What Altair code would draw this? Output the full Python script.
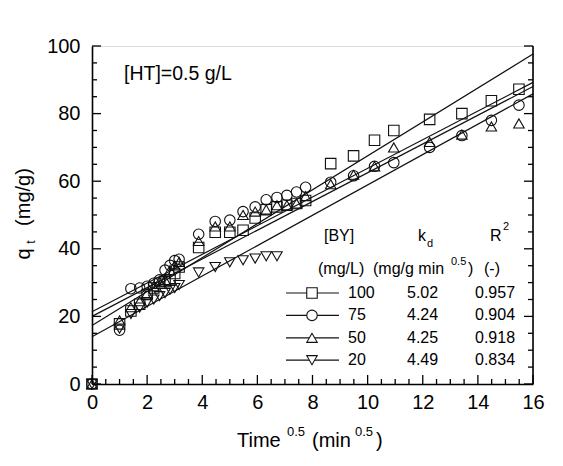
import altair as alt
import pandas as pd

# ---------------- data ----------------
time_sqrt = [0, 1.0, 1.41, 1.73, 2.0, 2.24, 2.45, 2.65, 2.83, 3.0, 3.16, 3.87, 4.47, 5.0,
             5.48, 5.92, 6.32, 6.71, 7.07, 7.42, 7.75, 8.66, 9.49, 10.25, 10.95, 12.25,
             13.42, 14.49, 15.49]
q_100 = [0, 17.8, 21.6, 23.6, 26.5, 28.4, 29.8, 30.3, 30.8, 32.7, 34.6, 40.4, 44.9, 44.9,
         45.5, 49.1, 51.6, 52.4, 52.9, 53.4, 54.3, 65.2, 67.5, 72.1, 75.0, 78.3, 80.0,
         83.8, 87.2]
q_75 = [0, 15.9, 28.2, 28.4, 28.9, 29.8, 30.8, 33.7, 35.1, 36.5, 36.9, 44.3, 48.1, 48.5,
        51.0, 52.4, 54.5, 55.2, 55.8, 56.8, 58.2, 59.7, 61.6, 64.4, 65.5, 70.0, 73.5,
        78.0, 82.5]
q_50 = [0, 18.8, 22.7, 24.5, 26.9, 28.9, 30.3, 30.8, 33.7, 35.1, 36.1, 42.3, 46.6, 46.6,
        50.0, 51.0, 51.6, 52.9, 52.9, 53.4, 55.6, 59.1, 61.9, 64.4, 70.0, 71.6, 73.8,
        76.2, 77.1]
q_20 = [0, 16.4, 20.7, 22.6, 24.1, 25.0, 26.0, 26.9, 27.9, 28.4, 29.3, 33.0, 34.6, 36.0,
        36.6, 37.1, 37.8, 37.8]

series = ["100", "75", "50", "20"]
kd = [5.02, 4.24, 4.25, 4.49]
kd_text = ["5.02", "4.24", "4.25", "4.49"]
intercept = [17.3, 21.4, 20.0, 14.0]
r2_text = ["0.957", "0.904", "0.918", "0.834"]
shapes = ["square", "circle", "triangle-up", "triangle-down"]

x_labels = [0, 2, 4, 6, 8, 10, 12, 14, 16]
y_labels = [0, 20, 40, 60, 80, 100]
x_minor = [i * 0.5 for i in range(33)]
y_minor = [i * 5 for i in range(21)]

# ---------------- tables ----------------
rows = []
for s, q in zip(series, [q_100, q_75, q_50, q_20]):
    for t, v in zip(time_sqrt, q):
        rows.append({"x": t, "q": v, "series": s})
pts = pd.DataFrame(rows)

lrows = []
for s, k, b in zip(series, kd, intercept):
    for t in [0, 16]:
        lrows.append({"x": t, "q": b + k * t, "series": s})
fits = pd.DataFrame(lrows)

W, H = 441, 338
FONT = "Liberation Sans"
INK = "#111111"

xscale = alt.Scale(domain=[0, 16], nice=False, zero=False)
yscale = alt.Scale(domain=[0, 100], nice=False, zero=False)
xaxis = alt.Axis(values=x_labels, format="d", title=None, ticks=False, grid=False,
                 labelFontSize=20, labelFont=FONT, labelColor="black", labelFlush=False,
                 labelPadding=8, domainColor="black", domainWidth=1.6, labelOverlap=False)
yaxis = alt.Axis(values=y_labels, format="d", title=None, ticks=False, grid=False,
                 labelFontSize=20, labelFont=FONT, labelColor="black", labelFlush=False,
                 labelPadding=12, domainColor="black", domainWidth=1.6, labelOverlap=False)


def X(f):
    return alt.X(f, type="quantitative", scale=xscale, axis=xaxis)


def Y(f):
    return alt.Y(f, type="quantitative", scale=yscale, axis=yaxis)


shape_scale = alt.Scale(domain=series, range=shapes)

lines = alt.Chart(fits).mark_line(color=INK, strokeWidth=1.2).encode(
    x=X("x"), y=Y("q"), detail="series:N")

points = alt.Chart(pts).mark_point(filled=False, color=INK, strokeWidth=1.1, size=110,
                                   opacity=1).encode(
    x=X("x"), y=Y("q"), shape=alt.Shape("series:N", scale=shape_scale, legend=None))

layers = [lines, points]

# right frame line
layers.append(alt.Chart(pd.DataFrame({"x": [16]})).mark_rule(color="black", strokeWidth=1.6)
              .encode(x=X("x"), y=alt.value(0), y2=alt.value(H)))

# inward ticks
xt = pd.DataFrame({"x": x_minor})
xt["major"] = [(i % 4 == 0) for i in range(len(x_minor))]
yt = pd.DataFrame({"q": y_minor})
yt["major"] = [(i % 4 == 0) for i in range(len(y_minor))]

for major, ln in [(True, 9), (False, 5)]:
    layers.append(alt.Chart(xt[xt["major"] == major]).mark_rule(color="black", strokeWidth=1.3)
                  .encode(x=X("x"), y=alt.value(H), y2=alt.value(H - ln)))
    layers.append(alt.Chart(yt[yt["major"] == major]).mark_rule(color="black", strokeWidth=1.3)
                  .encode(y=Y("q"), x=alt.value(0), x2=alt.value(ln)))
    layers.append(alt.Chart(yt[yt["major"] == major]).mark_rule(color="black", strokeWidth=1.3)
                  .encode(y=Y("q"), x=alt.value(W), x2=alt.value(W - ln)))


def txt(s, x, y, size=16, align="left", angle=0, baseline="middle"):
    return alt.Chart(pd.DataFrame({"a": [0]})).mark_text(
        text=s, font=FONT, fontSize=size, color="black", align=align,
        baseline=baseline, angle=angle).encode(x=alt.value(x), y=alt.value(y))


# annotation
layers.append(txt("[HT]=0.5 g/L", 32, 28, size=19.5))

# legend table header
layers.append(txt("[BY]", 232, 190))
layers.append(txt("k", 326, 190))
layers.append(txt("d", 335, 198, size=11))
layers.append(txt("R", 398, 190))
layers.append(txt("2", 411, 181, size=11))
layers.append(txt("(mg/L)", 226, 223))
layers.append(txt("(mg/g min", 281, 223))
layers.append(txt("0.5", 359, 216, size=11))
layers.append(txt(")", 376, 223))
layers.append(txt("(-)", 392, 223))

row0, dy = 247, 22.4
for i, (s, shp, k, r) in enumerate(zip(series, shapes, kd_text, r2_text)):
    yy = row0 + i * dy
    layers.append(alt.Chart(pd.DataFrame({"a": [0]})).mark_rule(color=INK, strokeWidth=1.2)
                  .encode(x=alt.value(194), x2=alt.value(247), y=alt.value(yy)))
    layers.append(alt.Chart(pd.DataFrame({"a": [0]})).mark_point(
        filled=True, fill="white", stroke=INK, strokeWidth=1.1, size=110, shape=shp, opacity=1)
        .encode(x=alt.value(220), y=alt.value(yy)))
    layers.append(txt(s, 256, yy))
    layers.append(txt(k, 315, yy))
    layers.append(txt(r, 383, yy))

# axis titles
layers.append(txt("q", -68, 208, size=20, align="center", angle=270))
layers.append(txt("t", -61, 196, size=12, align="center", angle=270))
layers.append(txt("(mg/g)", -68, 151, size=20, align="center", angle=270))

ty = 395
layers.append(txt("Time", 145, ty, size=20))
layers.append(txt("0.5", 195, ty - 9, size=13))
layers.append(txt("(min", 220, ty, size=20))
layers.append(txt("0.5", 263, ty - 9, size=13))
layers.append(txt(")", 284, ty, size=20))

chart = alt.layer(*layers).properties(
    width=W, height=H,
    autosize=alt.AutoSizeParams(type="none"),
    padding={"left": 84, "top": 38, "right": 20, "bottom": 78},
).configure_view(stroke=None).configure(background="white")

chart.save("out.html", embed_options={"renderer": "svg", "actions": False})
